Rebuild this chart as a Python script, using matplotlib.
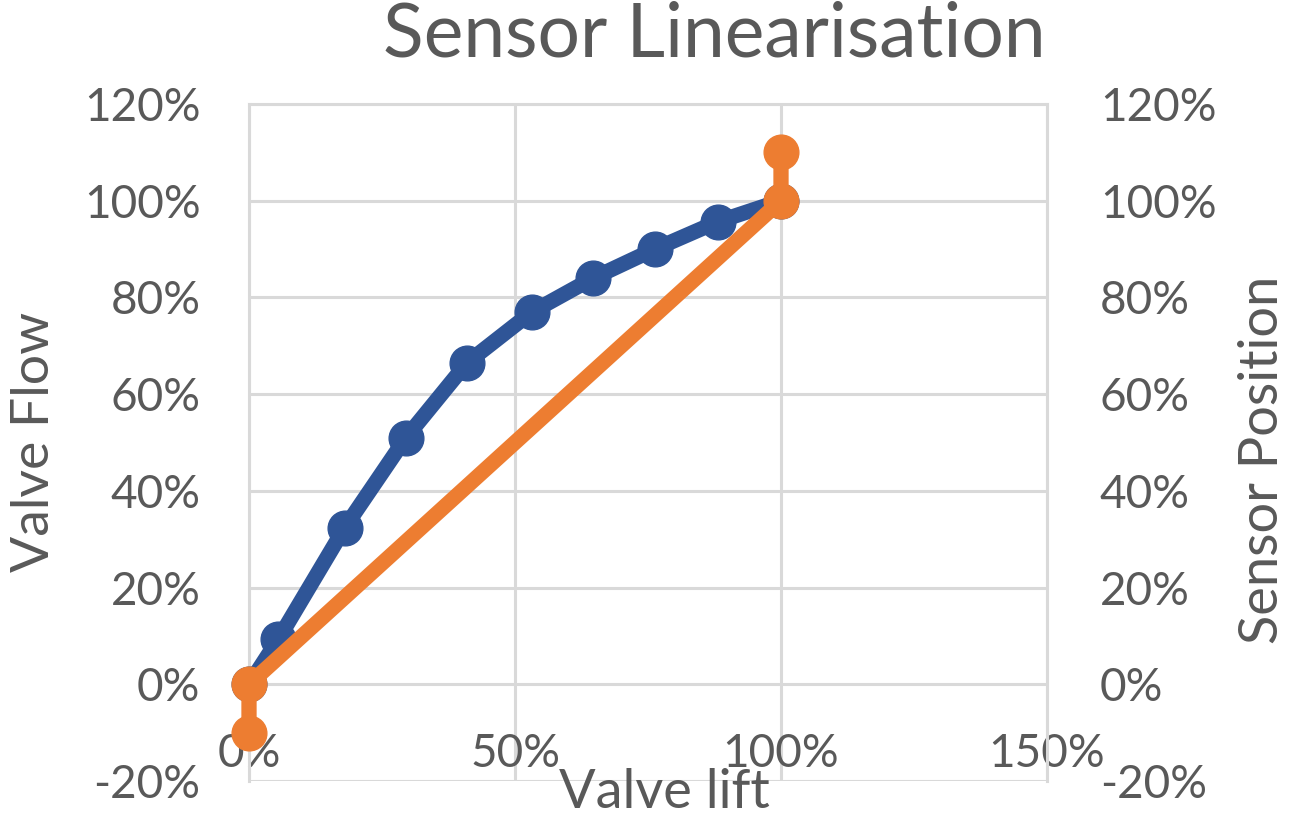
import matplotlib.pyplot as plt
from matplotlib.ticker import PercentFormatter

plt.rcParams['font.family'] = ['Lato', 'DejaVu Sans']
plt.rcParams['axes.unicode_minus'] = False

# Valve flow vs valve lift (blue, left axis)
lift = [0.0, 5.5, 18.0, 29.5, 41.0, 53.2, 64.7, 76.3, 88.2, 100.0]
flow = [0.0, 9.3, 32.4, 51.0, 66.5, 77.0, 84.0, 90.0, 95.7, 100.0]

# Sensor position (orange, right axis)
sensor_lift = [0.0, 0.0, 100.0, 100.0]
sensor_pos = [-10.0, 0.0, 100.0, 110.0]

x_ticks = [0, 50, 100, 150]
y_ticks = [-20, 0, 20, 40, 60, 80, 100, 120]

text_col = '#595959'
grid_col = '#D9D9D9'
blue = '#2F5597'
orange = '#ED7D31'

fig = plt.figure(figsize=(12.94, 8.16), dpi=100)
ax = fig.add_axes([249 / 1294, 1 - 781 / 816, 798 / 1294, 677 / 816])

ax.plot(lift, flow, color=blue, lw=11, marker='o', ms=25, zorder=3, clip_on=False)
ax.set_xlim(0, 150)
ax.set_ylim(-20, 120)
ax.set_xticks(x_ticks)
ax.set_yticks(y_ticks)
ax.xaxis.set_major_formatter(PercentFormatter(decimals=0))
ax.yaxis.set_major_formatter(PercentFormatter(decimals=0))
ax.grid(True, color=grid_col, lw=2.2)
ax.set_axisbelow(True)
for s in ax.spines.values():
    s.set_color(grid_col)
    s.set_linewidth(2.2)
ax.spines['bottom'].set_position(('data', 0))
ax.spines['bottom'].set_visible(False)
ax.tick_params(axis='x', length=0, pad=35, labelsize=33, labelcolor=text_col)
ax.tick_params(axis='y', length=0, pad=35, labelsize=33, labelcolor=text_col)

ax2 = ax.twinx()
ax2.plot(sensor_lift, sensor_pos, color=orange, lw=11, marker='o', ms=25, zorder=4,
         clip_on=False)
ax2.set_ylim(-20, 120)
ax2.set_yticks(y_ticks)
ax2.yaxis.set_major_formatter(PercentFormatter(decimals=0))
ax2.tick_params(axis='y', length=0, pad=38, labelsize=33, labelcolor=text_col)
for s in ax2.spines.values():
    s.set_visible(False)

fig.text(714 / 1294, 1 - 35 / 816, 'Sensor Linearisation', ha='center', va='center',
         fontsize=54, color=text_col)
fig.text(664 / 1294, 1 - 793 / 816, 'Valve lift', ha='center', va='center',
         fontsize=39, color=text_col)
fig.text(35 / 1294, 1 - 442 / 816, 'Valve Flow', ha='center', va='center',
         rotation=90, fontsize=38.5, color=text_col)
fig.text(1263 / 1294, 1 - 460 / 816, 'Sensor Position', ha='center', va='center',
         rotation=90, fontsize=39, color=text_col)

fig.savefig('out.png', dpi=100)
